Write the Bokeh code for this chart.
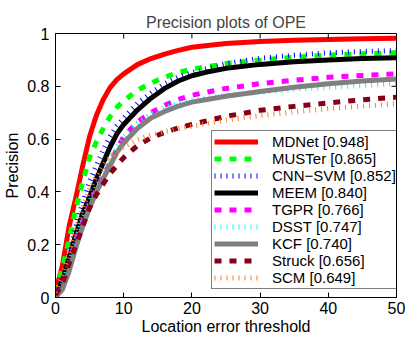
import math
from bokeh.plotting import figure
from bokeh.models import FixedTicker, Legend, LegendItem, Range1d
from bokeh.embed import file_html
from bokeh.resources import INLINE

# ---- data ----
x_thresholds = [0, 1, 2, 3, 4, 5, 6, 7, 8, 9, 10, 12, 14, 16, 18, 20, 22, 25, 30, 35, 40, 45, 50]

trackers = ["MDNet", "MUSTer", "CNN\u2212SVM", "MEEM", "TGPR", "DSST", "KCF", "Struck", "SCM"]
scores = ["0.948", "0.865", "0.852", "0.840", "0.766", "0.747", "0.740", "0.656", "0.649"]

mdnet = [0.02, 0.12, 0.27, 0.38, 0.50, 0.61, 0.69, 0.75, 0.795, 0.825, 0.847, 0.882, 0.905, 0.922, 0.936, 0.948, 0.954, 0.962, 0.970, 0.974, 0.977, 0.980, 0.982]
muster = [0.02, 0.11, 0.22, 0.34, 0.44, 0.53, 0.59, 0.64, 0.685, 0.72, 0.745, 0.785, 0.812, 0.835, 0.852, 0.865, 0.873, 0.886, 0.899, 0.91, 0.918, 0.923, 0.927]
cnnsvm = [0.01, 0.07, 0.16, 0.27, 0.36, 0.44, 0.50, 0.56, 0.61, 0.65, 0.68, 0.735, 0.775, 0.81, 0.835, 0.852, 0.866, 0.886, 0.906, 0.918, 0.927, 0.932, 0.935]
meem = [0.01, 0.06, 0.15, 0.24, 0.32, 0.38, 0.45, 0.51, 0.57, 0.62, 0.655, 0.71, 0.755, 0.792, 0.82, 0.84, 0.853, 0.868, 0.883, 0.893, 0.90, 0.905, 0.908]
tgpr = [0.01, 0.05, 0.13, 0.22, 0.29, 0.35, 0.41, 0.46, 0.51, 0.56, 0.61, 0.665, 0.70, 0.728, 0.75, 0.766, 0.777, 0.792, 0.81, 0.823, 0.834, 0.841, 0.847]
dsst = [0.01, 0.05, 0.13, 0.22, 0.30, 0.36, 0.42, 0.47, 0.52, 0.57, 0.61, 0.66, 0.695, 0.718, 0.735, 0.747, 0.755, 0.765, 0.777, 0.788, 0.796, 0.803, 0.81]
kcf = [0.0, 0.03, 0.10, 0.19, 0.27, 0.34, 0.40, 0.45, 0.50, 0.55, 0.585, 0.64, 0.68, 0.705, 0.725, 0.74, 0.749, 0.762, 0.78, 0.796, 0.81, 0.82, 0.828]
struck = [0.01, 0.05, 0.13, 0.20, 0.27, 0.34, 0.39, 0.43, 0.47, 0.50, 0.53, 0.575, 0.605, 0.625, 0.642, 0.656, 0.668, 0.686, 0.709, 0.724, 0.737, 0.749, 0.759]
scm = [0.02, 0.08, 0.17, 0.26, 0.34, 0.41, 0.46, 0.50, 0.53, 0.555, 0.57, 0.598, 0.615, 0.628, 0.64, 0.649, 0.658, 0.672, 0.689, 0.703, 0.715, 0.725, 0.734]

series = [mdnet, muster, cnnsvm, meem, tgpr, dsst, kcf, struck, scm]

x_ticks = [0, 10, 20, 30, 40, 50]
x_tick_labels = ["0", "10", "20", "30", "40", "50"]
y_ticks = [0, 0.2, 0.4, 0.6, 0.8, 1]
y_tick_labels = ["0", "0.2", "0.4", "0.6", "0.8", "1"]

# ---- styles ----
colors = ["#FF0000", "#00FF00", "#0000FF", "#000000", "#FF00FF", "#00FFFF", "#808080", "#880015", "#FF7F27"]
dashes = ["solid", "7 8", "1 5", "solid", "7 8", "1 5", "solid", "7 8", "1 5"]
widths = [5, 5, 5, 5, 5, 5, 5, 5, 5]

FONT = "Liberation Sans"

x_min, x_max = x_ticks[0], x_ticks[-1]
y_min, y_max = y_ticks[0], y_ticks[-1]

p = figure(width=411, height=338, output_backend="svg", toolbar_location=None,
           x_range=Range1d(x_min, x_max), y_range=Range1d(y_min, y_max),
           min_border_left=55, min_border_right=15, min_border_top=33, min_border_bottom=41)

p.title.text = "Precision plots of OPE"
p.title.align = "center"
p.title.vertical_align = "middle"
p.title.text_font = FONT
p.title.text_font_size = "16px"
p.title.text_font_style = "normal"
p.title.standoff = 3

p.xgrid.visible = False
p.ygrid.visible = False
p.outline_line_color = "black"
p.outline_line_width = 1
p.background_fill_color = "white"
p.border_fill_color = "white"

renderers = []
for vals, c, d, w in zip(series, colors, dashes, widths):
    r = p.line(x_thresholds, vals, line_color=c, line_width=w, line_dash=d, line_cap="butt")
    renderers.append(r)

# inward tick marks on the top and right edges of the box (MATLAB style)
p.ray(x=x_ticks, y=[y_max] * len(x_ticks), length=5, length_units="screen",
      angle=-math.pi / 2, line_color="black", line_width=1)
p.ray(x=[x_max] * len(y_ticks), y=y_ticks, length=5, length_units="screen",
      angle=math.pi, line_color="black", line_width=1)

def style_axis(ax, ticks, labels):
    ax.ticker = FixedTicker(ticks=ticks)
    ax.major_label_overrides = {t: l for t, l in zip(ticks, labels)}
    ax.major_tick_in = 5
    ax.major_tick_out = 0
    ax.minor_tick_in = 0
    ax.minor_tick_out = 0
    ax.axis_line_color = "black"
    ax.major_tick_line_color = "black"
    ax.major_label_text_font = FONT
    ax.major_label_text_font_size = "16px"
    ax.major_label_text_color = "black"
    ax.axis_label_text_font = FONT
    ax.axis_label_text_font_size = "16px"
    ax.axis_label_text_font_style = "normal"
    ax.axis_label_text_color = "black"

xa = p.xaxis[0]
style_axis(xa, x_ticks, x_tick_labels)
xa.axis_label = "Location error threshold"
xa.major_label_standoff = 4
xa.axis_label_standoff = 1

ya = p.yaxis[0]
style_axis(ya, y_ticks, y_tick_labels)
ya.axis_label = "Precision"
ya.major_label_standoff = 6
ya.axis_label_standoff = 3

items = [LegendItem(label=f"{n} [{s}]", renderers=[r]) for n, s, r in zip(trackers, scores, renderers)]
legend = Legend(items=items, location=(156, 8))
legend.label_text_font = FONT
legend.label_text_font_size = "15px"
legend.label_text_color = "black"
legend.glyph_width = 44
legend.glyph_height = 17
legend.label_height = 17
legend.label_standoff = 14
legend.spacing = 0
legend.padding = 2
legend.margin = 0
legend.border_line_color = "black"
legend.border_line_width = 1
legend.background_fill_color = "white"
legend.background_fill_alpha = 1
p.add_layout(legend, "center")

open("out.html", "w").write(file_html(p, INLINE))
